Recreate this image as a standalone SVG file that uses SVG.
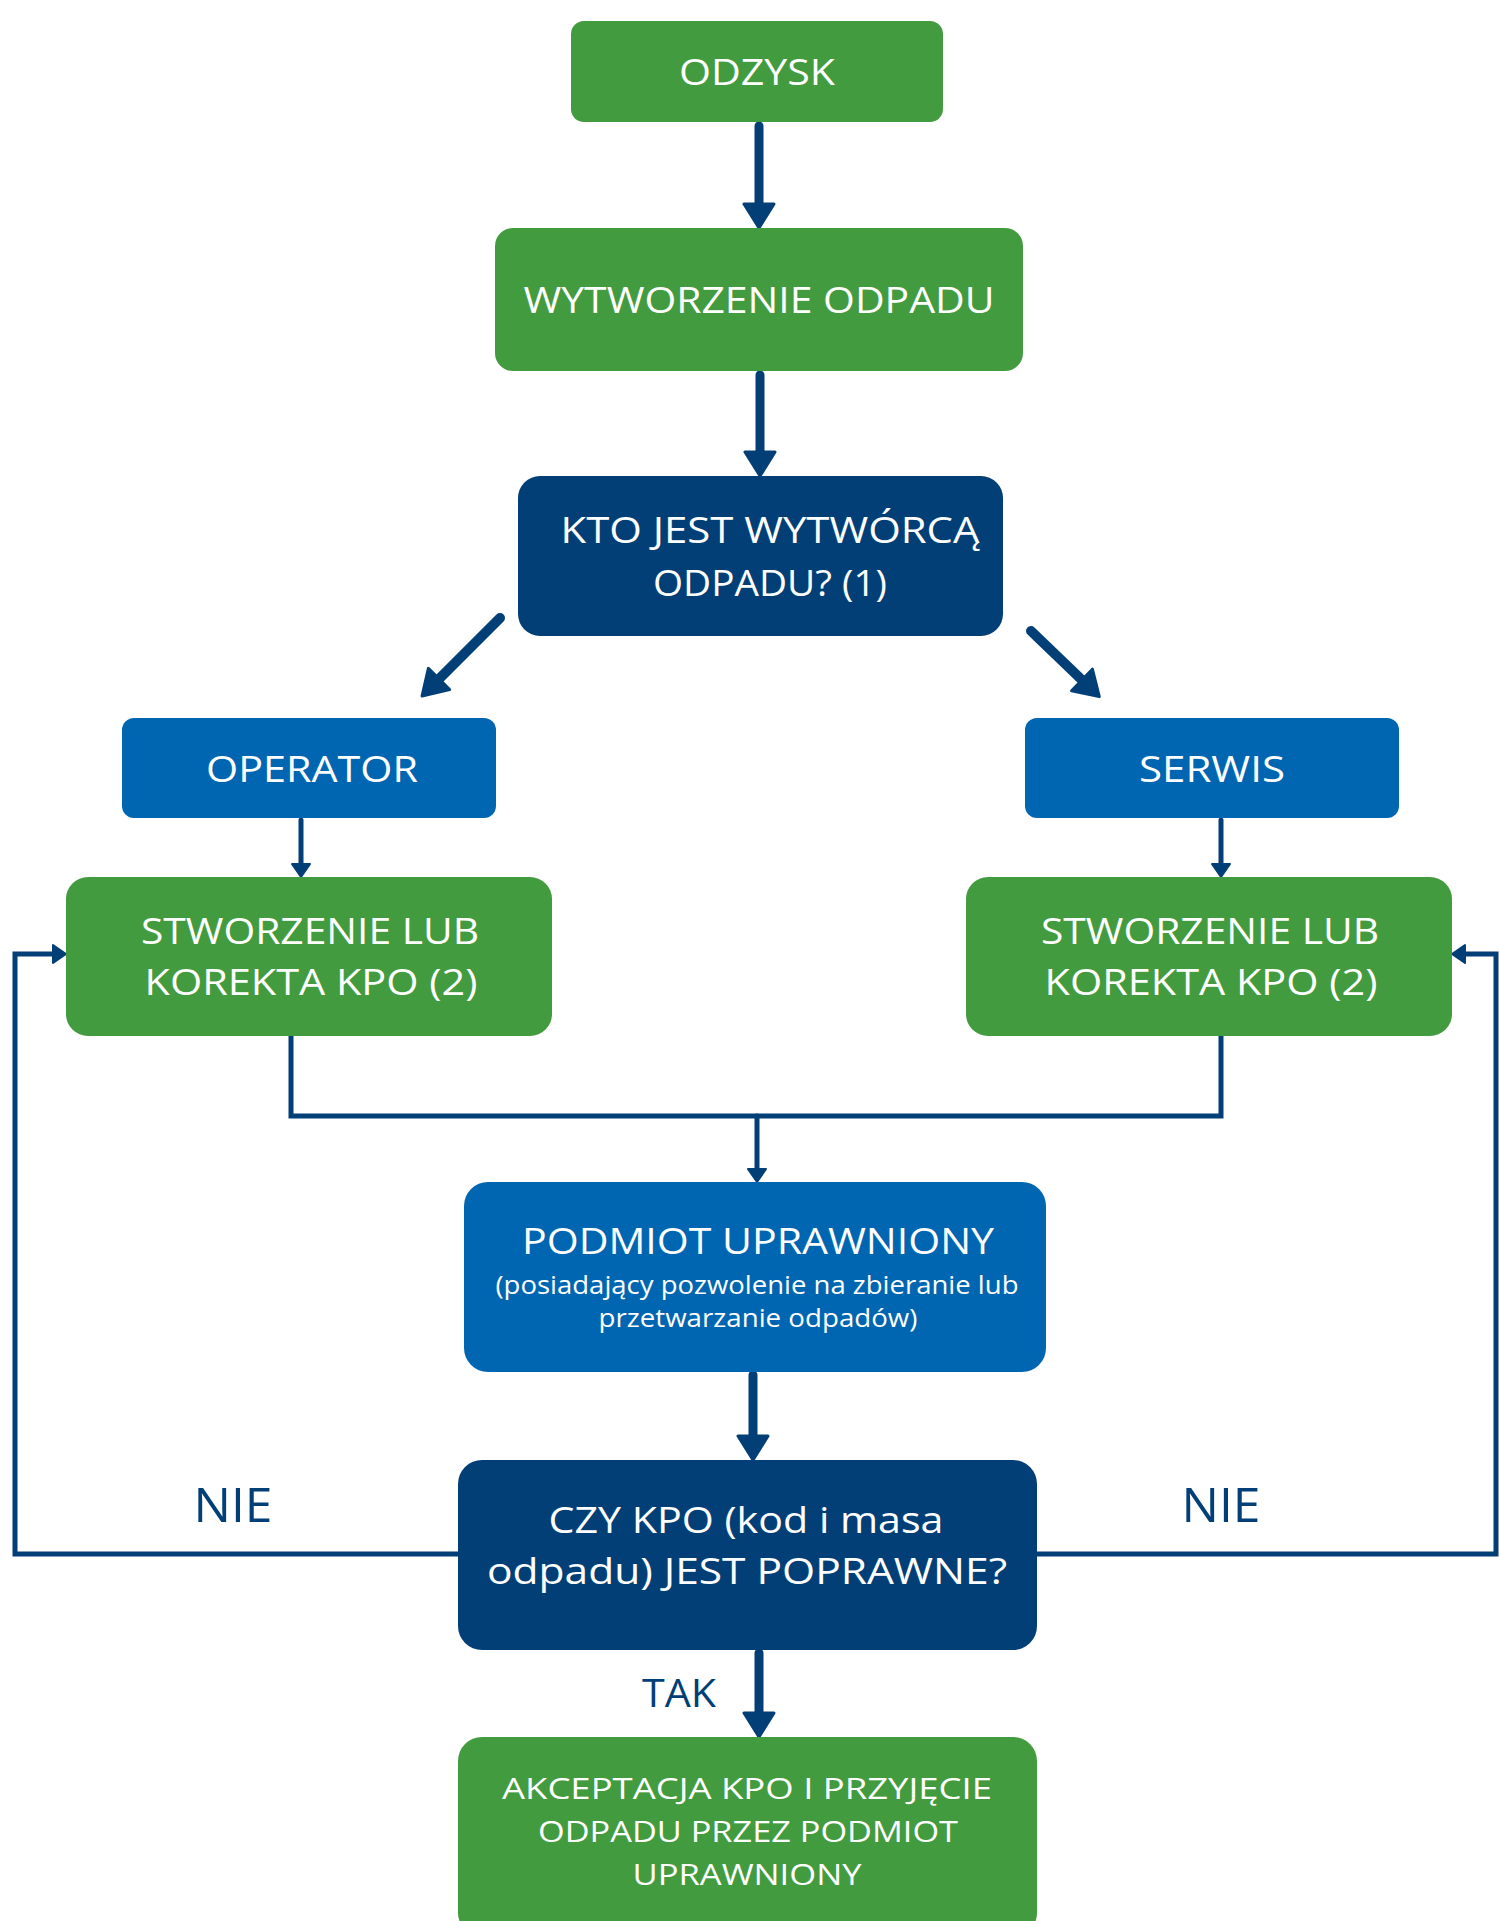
<svg xmlns="http://www.w3.org/2000/svg" width="1499" height="1921" viewBox="0 0 1499 1921">
<style>
.g{fill:#439B3F}
.n{fill:#023F77}
.b{fill:#0066B2}
text{font-family:"Open Sans","Liberation Sans",sans-serif;fill:#fff;text-anchor:middle;font-weight:500}
.t{font-size:36px}
.s{font-size:25px}
.lab{fill:#023F77}
.c{fill:none;stroke:#023F77;stroke-linecap:round;stroke-linejoin:miter}
.w{stroke-width:9}
.th{stroke-width:5}
</style>
<defs>
<marker id="ah" viewBox="-3 -18 30 36" refX="0" refY="0" markerWidth="30" markerHeight="36" markerUnits="userSpaceOnUse" orient="auto"><path d="M0,-15 L24,0 L0,15 Z" fill="#023F77" stroke="#023F77" stroke-width="3" stroke-linejoin="round"/></marker>
<marker id="as" viewBox="-2 -11 17 22" refX="0" refY="0" markerWidth="17" markerHeight="22" markerUnits="userSpaceOnUse" orient="auto"><path d="M0,-9 L13,0 L0,9 Z" fill="#023F77" stroke="#023F77" stroke-width="2" stroke-linejoin="round"/></marker>
</defs>
<rect width="1499" height="1921" fill="#fff"/>
<g id="connectors">
<line class="c w" x1="759" y1="126" x2="759" y2="204" marker-end="url(#ah)"/>
<line class="c w" x1="760" y1="375" x2="760" y2="452" marker-end="url(#ah)"/>
<line class="c" stroke-width="10" x1="500" y1="618" x2="439" y2="679" marker-end="url(#ah)"/>
<line class="c" stroke-width="10" x1="1031" y1="631" x2="1082" y2="680" marker-end="url(#ah)"/>
<line class="c th" x1="301" y1="820" x2="301" y2="864" marker-end="url(#as)"/>
<line class="c th" x1="1221" y1="820" x2="1221" y2="864" marker-end="url(#as)"/>
<path class="c th" stroke-linecap="butt" d="M291,1036 V1116 H1221 V1036"/>
<line class="c th" x1="757" y1="1116" x2="757" y2="1169" marker-end="url(#as)"/>
<line class="c w" x1="753" y1="1375" x2="753" y2="1436" marker-end="url(#ah)"/>
<line class="c w" x1="759" y1="1653" x2="759" y2="1713" marker-end="url(#ah)"/>
<path class="c th" stroke-linecap="butt" d="M458,1554 H15 V954 H53" marker-end="url(#as)"/>
<path class="c th" stroke-linecap="butt" d="M1037,1554 H1496 V954 H1465" marker-end="url(#as)"/>
<text class="lab" x="233" y="1522" font-size="48" textLength="79" lengthAdjust="spacingAndGlyphs">NIE</text>
<text class="lab" x="1221" y="1522" font-size="48" textLength="79" lengthAdjust="spacingAndGlyphs">NIE</text>
<text class="lab" x="679" y="1707" font-size="38" textLength="74" lengthAdjust="spacingAndGlyphs">TAK</text>
</g>
<g id="odzysk">
<rect class="g" x="571" y="21" width="372" height="101" rx="13"/>
<text class="t" x="757" y="85" textLength="156" lengthAdjust="spacingAndGlyphs">ODZYSK</text>
</g>
<g id="wytworzenie">
<rect class="g" x="495" y="228" width="528" height="143" rx="18"/>
<text class="t" x="759" y="313" textLength="471" lengthAdjust="spacingAndGlyphs">WYTWORZENIE ODPADU</text>
</g>
<g id="kto">
<rect class="n" x="518" y="476" width="485" height="160" rx="22"/>
<text class="t" x="770" y="543" textLength="419" lengthAdjust="spacingAndGlyphs">KTO JEST WYTWÓRCĄ</text>
<text class="t" x="770" y="596" textLength="234" lengthAdjust="spacingAndGlyphs">ODPADU? (1)</text>
</g>
<g id="operator">
<rect class="b" x="122" y="718" width="374" height="100" rx="12"/>
<text class="t" x="312" y="782" textLength="212" lengthAdjust="spacingAndGlyphs">OPERATOR</text>
</g>
<g id="serwis">
<rect class="b" x="1025" y="718" width="374" height="100" rx="12"/>
<text class="t" x="1212" y="782" textLength="146" lengthAdjust="spacingAndGlyphs">SERWIS</text>
</g>
<g id="stworzenie-left">
<rect class="g" x="66" y="877" width="486" height="159" rx="22"/>
<text class="t" x="310" y="944" textLength="338" lengthAdjust="spacingAndGlyphs">STWORZENIE LUB</text>
<text class="t" x="311" y="995" textLength="333" lengthAdjust="spacingAndGlyphs">KOREKTA KPO (2)</text>
</g>
<g id="stworzenie-right">
<rect class="g" x="966" y="877" width="486" height="159" rx="22"/>
<text class="t" x="1210" y="944" textLength="338" lengthAdjust="spacingAndGlyphs">STWORZENIE LUB</text>
<text class="t" x="1211" y="995" textLength="333" lengthAdjust="spacingAndGlyphs">KOREKTA KPO (2)</text>
</g>
<g id="podmiot">
<rect class="b" x="464" y="1182" width="582" height="190" rx="24"/>
<text class="t" x="758" y="1254" textLength="472" lengthAdjust="spacingAndGlyphs">PODMIOT UPRAWNIONY</text>
<text class="s" x="757" y="1294" font-size="24" textLength="523" lengthAdjust="spacingAndGlyphs">(posiadający pozwolenie na zbieranie lub</text>
<text class="s" x="758" y="1327" font-size="24" textLength="319" lengthAdjust="spacingAndGlyphs">przetwarzanie odpadów)</text>
</g>
<g id="czy-kpo">
<rect class="n" x="458" y="1460" width="579" height="190" rx="24"/>
<text class="t" x="746" y="1533" textLength="395" lengthAdjust="spacingAndGlyphs">CZY KPO (kod i masa</text>
<text class="t" x="747" y="1584" textLength="520" lengthAdjust="spacingAndGlyphs">odpadu) JEST POPRAWNE?</text>
</g>
<g id="akceptacja">
<rect class="g" x="458" y="1737" width="579" height="200" rx="24"/>
<text x="747" y="1799" font-size="30" textLength="490" lengthAdjust="spacingAndGlyphs">AKCEPTACJA KPO I PRZYJĘCIE</text>
<text x="748" y="1842" font-size="30" textLength="420" lengthAdjust="spacingAndGlyphs">ODPADU PRZEZ PODMIOT</text>
<text x="747" y="1885" font-size="30" textLength="229" lengthAdjust="spacingAndGlyphs">UPRAWNIONY</text>
</g>
</svg>
